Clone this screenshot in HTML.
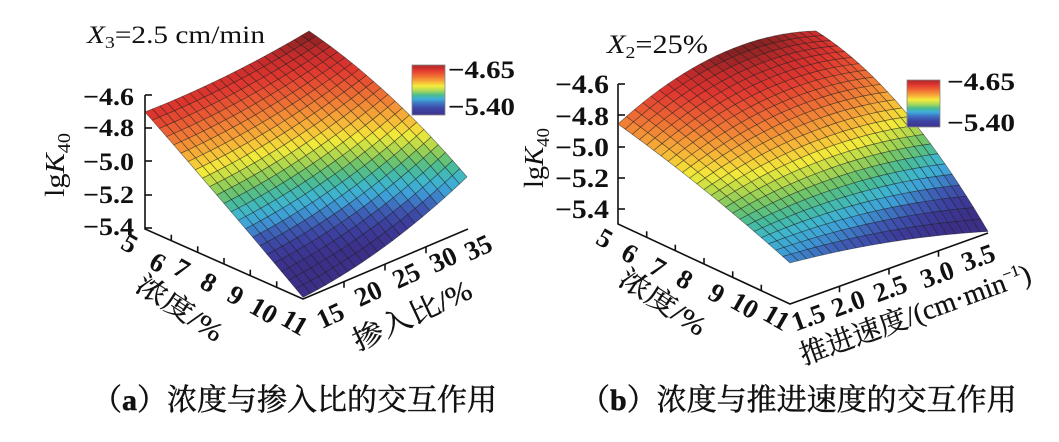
<!DOCTYPE html>
<html><head><meta charset="utf-8">
<style>
html,body{margin:0;padding:0;background:#fff;}
svg{display:block;}
text{font-family:"Liberation Serif","Noto Serif CJK SC",serif;fill:#111;}
.cj{font-family:"Liberation Serif","Noto Serif CJK SC",serif;}
</style></head><body>
<svg id="s" xmlns="http://www.w3.org/2000/svg" width="1059" height="442" viewBox="0 0 1059 442">
<defs>
<linearGradient id="cb" x1="0" y1="0" x2="0" y2="1">
<stop offset="0" stop-color="#a82828"/>
<stop offset="0.1" stop-color="#e0352f"/>
<stop offset="0.2" stop-color="#ef6233"/>
<stop offset="0.32" stop-color="#f7a638"/>
<stop offset="0.42" stop-color="#f5ec3c"/>
<stop offset="0.52" stop-color="#a6d75c"/>
<stop offset="0.6" stop-color="#4abd8e"/>
<stop offset="0.68" stop-color="#3eaedb"/>
<stop offset="0.77" stop-color="#3f72c2"/>
<stop offset="0.87" stop-color="#3e44a4"/>
<stop offset="1" stop-color="#3c338e"/>
</linearGradient>
</defs>

<!-- LEFT axes -->
<g stroke="#111" stroke-width="1.6" fill="none">
<polyline points="145,95 145,229 303,299 468,229"/>
<line x1="145" y1="95" x2="152" y2="95"/>
<line x1="145" y1="128" x2="152" y2="128"/>
<line x1="145" y1="161" x2="152" y2="161"/>
<line x1="145" y1="195" x2="152" y2="195"/>
<line x1="145" y1="228" x2="152" y2="228"/>
<line x1="171.3" y1="240.7" x2="171.3" y2="234.7"/>
<line x1="197.7" y1="252.3" x2="197.7" y2="246.3"/>
<line x1="224" y1="264" x2="224" y2="258"/>
<line x1="250.3" y1="275.7" x2="250.3" y2="269.7"/>
<line x1="276.7" y1="287.3" x2="276.7" y2="281.3"/>
<line x1="344" y1="281.75" x2="344" y2="287.75"/>
<line x1="385" y1="264.5" x2="385" y2="270.5"/>
<line x1="426" y1="247.25" x2="426" y2="253.25"/>
</g>
<g id="surfL" stroke="#1a1a1a" stroke-opacity="0.55" stroke-width="0.7" stroke-linejoin="round"></g>

<!-- RIGHT axes -->
<g stroke="#111" stroke-width="1.6" fill="none">
<polyline points="618,84 618,224 790,304 988,233"/>
<line x1="618" y1="84" x2="625" y2="84"/>
<line x1="618" y1="115" x2="625" y2="115"/>
<line x1="618" y1="147" x2="625" y2="147"/>
<line x1="618" y1="178" x2="625" y2="178"/>
<line x1="618" y1="209" x2="625" y2="209"/>
<line x1="646.7" y1="237.3" x2="646.7" y2="231.3"/>
<line x1="675.3" y1="250.7" x2="675.3" y2="244.7"/>
<line x1="704" y1="264" x2="704" y2="258"/>
<line x1="732.7" y1="277.3" x2="732.7" y2="271.3"/>
<line x1="761.3" y1="290.7" x2="761.3" y2="284.7"/>
<line x1="839.5" y1="286.25" x2="839.5" y2="292.25"/>
<line x1="889" y1="268.5" x2="889" y2="274.5"/>
<line x1="938.5" y1="250.75" x2="938.5" y2="256.75"/>
</g>
<g id="surfR" stroke="#1a1a1a" stroke-opacity="0.55" stroke-width="0.7" stroke-linejoin="round"></g>

<!-- LEFT texts -->
<text x="87" y="43" font-size="25" textLength="178" lengthAdjust="spacingAndGlyphs"><tspan font-style="italic">X</tspan><tspan font-size="17" dy="5">3</tspan><tspan dy="-5">=2.5 cm/min</tspan></text>
<g font-size="25" font-weight="bold" text-anchor="end">
<text x="134" y="105" textLength="51" lengthAdjust="spacingAndGlyphs">−4.6</text>
<text x="134" y="136" textLength="51" lengthAdjust="spacingAndGlyphs">−4.8</text>
<text x="134" y="170" textLength="51" lengthAdjust="spacingAndGlyphs">−5.0</text>
<text x="134" y="203" textLength="51" lengthAdjust="spacingAndGlyphs">−5.2</text>
<text x="134" y="235" textLength="51" lengthAdjust="spacingAndGlyphs">−5.4</text>
</g>
<text transform="translate(64,165) rotate(-90)" font-size="27" text-anchor="middle" textLength="64" lengthAdjust="spacingAndGlyphs">lg<tspan font-style="italic">K</tspan><tspan font-size="18" dy="6">40</tspan></text>
<rect x="412" y="65" width="33" height="50" fill="url(#cb)" stroke="#888" stroke-width="0.8"/>
<text x="448" y="78" font-size="25" font-weight="bold" textLength="67" lengthAdjust="spacingAndGlyphs">−4.65</text>
<text x="448" y="115" font-size="25" font-weight="bold" textLength="67" lengthAdjust="spacingAndGlyphs">−5.40</text>
<g font-size="27" font-weight="bold" text-anchor="middle">
<text transform="translate(130,243) rotate(30)" dy="0.35em">5</text>
<text transform="translate(158,262) rotate(30)" dy="0.35em">6</text>
<text transform="translate(182,268) rotate(30)" dy="0.35em">7</text>
<text transform="translate(209,282) rotate(30)" dy="0.35em">8</text>
<text transform="translate(236,295) rotate(30)" dy="0.35em">9</text>
<text transform="translate(264,310) rotate(30)" dy="0.35em">10</text>
<text transform="translate(295,322) rotate(30)" dy="0.35em">11</text>
<text transform="translate(330,315) rotate(-25)" dy="0.35em">15</text>
<text transform="translate(368,293) rotate(-25)" dy="0.35em">20</text>
<text transform="translate(406,275) rotate(-25)" dy="0.35em">25</text>
<text transform="translate(443,259) rotate(-25)" dy="0.35em">30</text>
<text transform="translate(478,247) rotate(-25)" dy="0.35em">35</text>
</g>
<text class="cj" transform="translate(180,308) rotate(33)" dy="0.35em" font-size="27" text-anchor="middle" textLength="98" lengthAdjust="spacingAndGlyphs" stroke="#111" stroke-width="0.3">浓度/%</text>
<text class="cj" transform="translate(412,315) rotate(-25)" dy="0.35em" font-size="28" text-anchor="middle" textLength="128" lengthAdjust="spacingAndGlyphs" stroke="#111" stroke-width="0.3">掺入比/%</text>

<!-- RIGHT texts -->
<text x="607" y="53" font-size="26" textLength="101" lengthAdjust="spacingAndGlyphs"><tspan font-style="italic">X</tspan><tspan font-size="17" dy="5">2</tspan><tspan dy="-5">=25%</tspan></text>
<g font-size="26" font-weight="bold" text-anchor="end">
<text x="609" y="93" textLength="54" lengthAdjust="spacingAndGlyphs">−4.6</text>
<text x="609" y="125" textLength="54" lengthAdjust="spacingAndGlyphs">−4.8</text>
<text x="609" y="156" textLength="54" lengthAdjust="spacingAndGlyphs">−5.0</text>
<text x="609" y="187" textLength="54" lengthAdjust="spacingAndGlyphs">−5.2</text>
<text x="609" y="218" textLength="54" lengthAdjust="spacingAndGlyphs">−5.4</text>
</g>
<text transform="translate(543,158) rotate(-90)" font-size="27" text-anchor="middle" textLength="60" lengthAdjust="spacingAndGlyphs">lg<tspan font-style="italic">K</tspan><tspan font-size="18" dy="6">40</tspan></text>
<rect x="907" y="80" width="33" height="47" fill="url(#cb)" stroke="#888" stroke-width="0.8"/>
<text x="947" y="90" font-size="25" font-weight="bold" textLength="68" lengthAdjust="spacingAndGlyphs">−4.65</text>
<text x="947" y="131" font-size="25" font-weight="bold" textLength="68" lengthAdjust="spacingAndGlyphs">−5.40</text>
<g font-size="27" font-weight="bold" text-anchor="middle">
<text transform="translate(605,238) rotate(30)" dy="0.35em">5</text>
<text transform="translate(630,253) rotate(30)" dy="0.35em">6</text>
<text transform="translate(658,267) rotate(30)" dy="0.35em">7</text>
<text transform="translate(685,279) rotate(30)" dy="0.35em">8</text>
<text transform="translate(717,293) rotate(30)" dy="0.35em">9</text>
<text transform="translate(745,305) rotate(30)" dy="0.35em">10</text>
<text transform="translate(777,317) rotate(30)" dy="0.35em">11</text>
<text transform="translate(808,317) rotate(-20)" dy="0.35em">1.5</text>
<text transform="translate(848,303) rotate(-20)" dy="0.35em">2.0</text>
<text transform="translate(890,288) rotate(-20)" dy="0.35em">2.5</text>
<text transform="translate(937,274) rotate(-20)" dy="0.35em">3.0</text>
<text transform="translate(978,257) rotate(-20)" dy="0.35em">3.5</text>
</g>
<text class="cj" transform="translate(663,302) rotate(33)" dy="0.35em" font-size="27" text-anchor="middle" textLength="98" lengthAdjust="spacingAndGlyphs" stroke="#111" stroke-width="0.3">浓度/%</text>
<text class="cj" transform="translate(915,314) rotate(-20)" dy="0.35em" font-size="28" text-anchor="middle" textLength="244" lengthAdjust="spacingAndGlyphs" stroke="#111" stroke-width="0.3">推进速度/(cm·min<tspan font-size="16" dy="-11">−1</tspan><tspan dy="11">)</tspan></text>

<!-- captions -->
<text x="92" y="410" font-size="30" stroke="#111" stroke-width="0.5" style="font-family:'Noto Serif CJK SC',serif">（<tspan style="font-family:'Liberation Serif',serif" font-weight="bold">a</tspan>）浓度与掺入比的交互作用</text>
<text x="580" y="410" font-size="30" stroke="#111" stroke-width="0.5" style="font-family:'Noto Serif CJK SC',serif">（<tspan style="font-family:'Liberation Serif',serif" font-weight="bold">b</tspan>）浓度与推进速度的交互作用</text>
</svg>
<script>
(function(){
const stops=[[0,'#3b2f88'],[0.10,'#3d3c9c'],[0.18,'#3e5cb4'],[0.25,'#3e9ed8'],[0.31,'#3fb6cc'],[0.37,'#48bb98'],[0.43,'#74c566'],[0.49,'#b6d94a'],[0.55,'#f2ea3a'],[0.62,'#f7bb38'],[0.70,'#f28a36'],[0.78,'#ea5e33'],[0.86,'#e0372f'],[0.93,'#c42b2b'],[1.0,'#7a2020']];
function hex(h){return [parseInt(h.slice(1,3),16),parseInt(h.slice(3,5),16),parseInt(h.slice(5,7),16)];}
function cmap(c){c=Math.max(0,Math.min(1,c));for(let i=1;i<stops.length;i++){if(c<=stops[i][0]){const a=stops[i-1],b=stops[i];const t=(c-a[0])/(b[0]-a[0]);const A=hex(a[1]),B=hex(b[1]);return 'rgb('+A.map((x,k)=>Math.round(x+(B[k]-x)*t)).join(',')+')';}}return stops[stops.length-1][1];}
function surf(gid,o){
 const Z=(u,v)=>(1-u)*(1-v)*o.z00+u*(1-v)*o.z10+(1-u)*v*o.z01+u*v*o.z11+(o.e0+o.e1*u)*(v*v-v)+(o.f0+o.f1*v)*(u*u-u);
 const P=(u,v)=>{const z=Z(u,v);return [o.O[0]+u*o.C[0]+v*o.B[0], o.O[1]+u*o.C[1]+v*o.B[1]-(z-o.zb)*o.k];};
 const cells=[];
 for(let i=0;i<o.N;i++)for(let j=0;j<o.M;j++){
  const u0=i/o.N,u1=(i+1)/o.N,v0=j/o.M,v1=(j+1)/o.M;
  const pts=[P(u0,v0),P(u1,v0),P(u1,v1),P(u0,v1)];
  const zc=Z((u0+u1)/2,(v0+v1)/2);
  cells.push([u0-v0,pts,cmap(o.c0+(zc-o.cz)*o.cs)]);
 }
 cells.sort((a,b)=>a[0]-b[0]);
 const g=document.getElementById(gid);
 const ns='http://www.w3.org/2000/svg';
 for(const c of cells){const p=document.createElementNS(ns,'polygon');p.setAttribute('points',c[1].map(q=>q[0].toFixed(2)+','+q[1].toFixed(2)).join(' '));p.setAttribute('fill',c[2]);g.appendChild(p);}
}
surf('surfL',{O:[145,229],C:[158,70],B:[164,-69],k:166,zb:-5.4,z00:-4.695,z10:-5.39,z01:-4.623,z11:-5.08,e0:0.1,e1:0.12,f0:-0.03,f1:-0.2,N:22,M:22,c0:0.15,cz:-5.19,cs:1.5});
surf('surfR',{O:[618,224],C:[172,80],B:[198,-71],k:155,zb:-5.5,z00:-4.855,z10:-5.235,z01:-4.713,z11:-5.49,e0:-0.57,e1:0.44,f0:-0.1,f1:-0.5,N:24,M:24,c0:0.56,cz:-4.97,cs:1.3});
})();
</script>
</body></html>
